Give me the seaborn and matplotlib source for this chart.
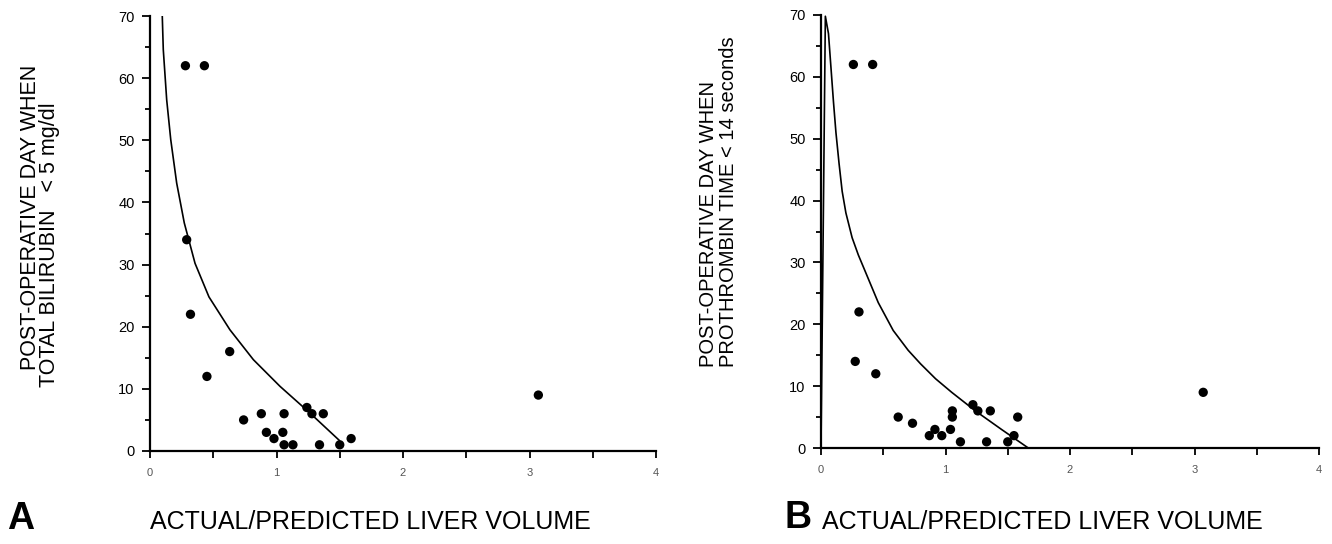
import numpy as np
import pandas as pd
import matplotlib.pyplot as plt
import seaborn as sns
from matplotlib.ticker import MultipleLocator

# Panel A - day when total bilirubin < 5 mg/dl
a_ratio = [0.28, 0.43, 0.29, 0.32, 0.63, 0.45, 0.74, 0.88, 1.06, 0.92, 0.98,
           1.05, 1.06, 1.13, 1.24, 1.28, 1.37, 1.34, 1.50, 1.59, 3.07]
a_day   = [62, 62, 34, 22, 16, 12, 5, 6, 6, 3, 2,
           3, 1, 1, 7, 6, 6, 1, 1, 2, 9]
a_fit_x = [0.097, 0.105, 0.132, 0.164, 0.211, 0.271, 0.356, 0.466, 0.632,
           0.817, 1.028, 1.265, 1.497]
a_fit_y = [70.0, 64.6, 56.5, 50.1, 43.1, 36.7, 30.2, 24.8, 19.5,
           14.7, 10.4, 6.1, 1.7]

# Panel B - day when prothrombin time < 14 seconds
b_ratio = [0.26, 0.415, 0.305, 0.275, 0.44, 0.62, 0.735, 0.87, 0.915, 0.97, 1.04,
           1.055, 1.055, 1.12, 1.22, 1.26, 1.36, 1.33, 1.50, 1.55, 1.58, 3.07]
b_day   = [62, 62, 22, 14, 12, 5, 4, 2, 3, 2, 3,
           6, 5, 1, 7, 6, 6, 1, 1, 2, 5, 9]
b_fit_x = [0.0, 0.035, 0.06, 0.08, 0.10, 0.12, 0.145, 0.17, 0.20, 0.25, 0.30,
           0.35, 0.46, 0.58, 0.70, 0.80, 0.92, 1.05, 1.24, 1.45, 1.665]
b_fit_y = [0.0, 69.8, 67.0, 61.5, 56.0, 51.0, 46.0, 41.5, 38.0, 34.0, 31.2,
           28.8, 23.5, 19.0, 15.8, 13.6, 11.2, 9.0, 6.0, 3.0, 0.0]

x_label = 'ACTUAL/PREDICTED LIVER VOLUME'

sns.set_style('ticks')
plt.rcParams['font.family'] = ['Liberation Sans', 'DejaVu Sans']
plt.rcParams['text.color'] = 'black'
plt.rcParams['ytick.labelcolor'] = 'black'

W, H = 1332, 544
fig = plt.figure(figsize = (W / 100, H / 100), dpi = 100)

ax_a = fig.add_axes([150 / W, 93 / H, 506 / W, 435 / H])
ax_b = fig.add_axes([821 / W, 96 / H, 498 / W, 433 / H])

panels = [(ax_a, a_ratio, a_day, a_fit_x, a_fit_y),
          (ax_b, b_ratio, b_day, b_fit_x, b_fit_y)]

for ax, xs, ys, fx, fy in panels:
    pts = pd.DataFrame({'ratio': xs, 'day': ys})
    fit = pd.DataFrame({'ratio': fx, 'day': fy})
    sns.lineplot(data = fit, x = 'ratio', y = 'day', ax = ax, color = 'black',
                 linewidth = 1.2, sort = False, estimator = None)
    sns.scatterplot(data = pts, x = 'ratio', y = 'day', ax = ax, color = 'black',
                    s = 45, edgecolor = 'none', zorder = 3)

    ax.set_xlim(0, 4)
    ax.set_ylim(0, 70)
    ax.set_xlabel(None)
    ax.set_ylabel(None)
    ax.xaxis.set_major_locator(MultipleLocator(1))
    ax.xaxis.set_minor_locator(MultipleLocator(0.5))
    ax.yaxis.set_major_locator(MultipleLocator(10))
    ax.yaxis.set_minor_locator(MultipleLocator(5))
    ax.tick_params(axis = 'y', which = 'major', length = 6, width = 1.3,
                   labelsize = 10.5, pad = 5, color = 'black', labelcolor = 'black')
    ax.tick_params(axis = 'y', which = 'minor', length = 3.5, width = 1.3, color = 'black')
    ax.tick_params(axis = 'x', which = 'both', length = 5, width = 1.3,
                   labelsize = 8, pad = 7, labelcolor = '#555555', color = 'black')
    sns.despine(ax = ax)
    for side in ['left', 'bottom']:
        ax.spines[side].set_linewidth(1.6)
        ax.spines[side].set_color('black')

def px(x, y):
    return x / W, 1 - y / H

# y-axis labels, two lines each
fig.text(*px(31, 370), 'POST-OPERATIVE DAY WHEN', rotation = 90,
         ha = 'center', va = 'bottom', fontsize = 15.5)
fig.text(*px(50, 387), 'TOTAL BILIRUBIN   < 5 mg/dl', rotation = 90,
         ha = 'center', va = 'bottom', fontsize = 15.5)
fig.text(*px(708, 367), 'POST-OPERATIVE DAY WHEN', rotation = 90,
         ha = 'center', va = 'bottom', fontsize = 14.5)
fig.text(*px(729, 367), 'PROTHROMBIN TIME < 14 seconds', rotation = 90,
         ha = 'center', va = 'bottom', fontsize = 14.5)

# x-axis labels
fig.text(*px(370, 522), x_label, ha = 'center', va = 'center', fontsize = 18)
fig.text(*px(1042, 522), x_label, ha = 'center', va = 'center', fontsize = 18)

# panel letters
fig.text(*px(21, 519), 'A', ha = 'center', va = 'center', fontsize = 27, weight = 'bold')
fig.text(*px(798, 518), 'B', ha = 'center', va = 'center', fontsize = 27, weight = 'bold')

plt.savefig('out.png', dpi = 100)
